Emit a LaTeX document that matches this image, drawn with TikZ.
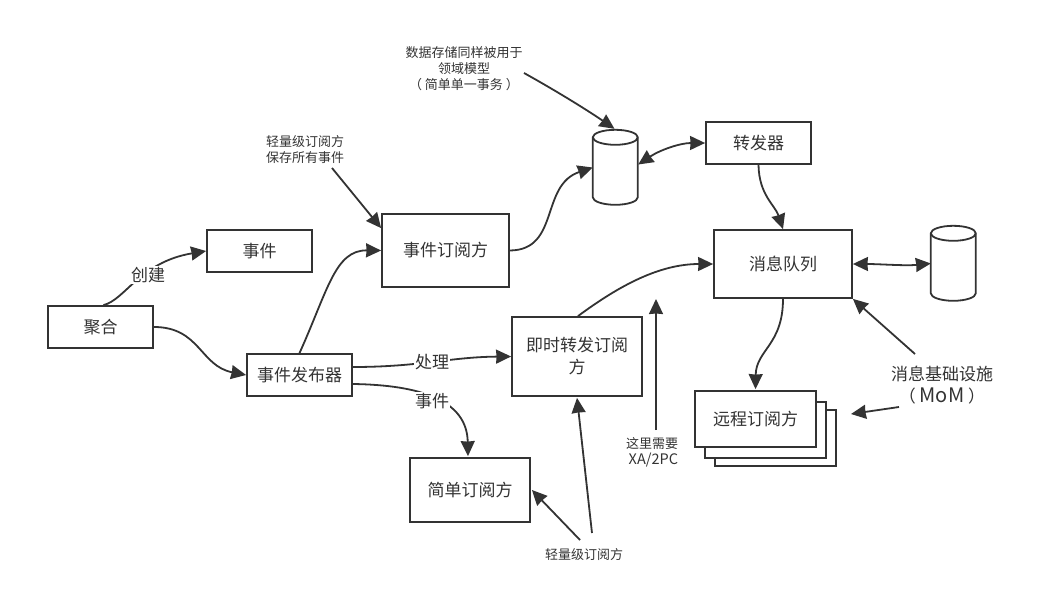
\documentclass[tikz,border=0pt]{standalone}
\usepackage{fontspec}
\setmainfont{Noto Sans CJK SC}
\usetikzlibrary{arrows.meta,calc}
\definecolor{ink}{HTML}{333333}
\tikzset{
  boxnode/.style={draw=ink,line width=1.8pt,fill=white,inner sep=0pt,align=center,text=ink,font=\fontsize{17}{22}\selectfont},
  bigtext/.style={inner sep=0pt,align=center,text=ink,font=\fontsize{17}{22}\selectfont},
  smalltext/.style={inner sep=0pt,align=center,text=ink,font=\fontsize{13}{16}\selectfont},
  edgelabel/.style={fill=white,inner sep=1pt,text=ink,font=\fontsize{17}{22}\selectfont},
  conn/.style={draw=ink,line width=1.8pt,-{Stealth[length=15pt,width=14pt,inset=0.5pt]}},
  biconn/.style={draw=ink,line width=1.8pt,{Stealth[length=15pt,width=14pt,inset=0.5pt]}-{Stealth[length=15pt,width=14pt,inset=0.5pt]}},
  dbline/.style={draw=ink,line width=1.8pt,fill=white},
  anchorbox/.style={inner sep=0pt,minimum width=45pt,minimum height=75pt},
}
\newcommand{\mybox}[6]{\node[boxnode,minimum width=#4pt-#2pt,minimum height=#5pt-#3pt] (#1) at ({(#2+#4)/2},{(#3+#5)/2}) {#6};}
\newcommand{\mydb}[3]{%
  \node[anchorbox] (#1) at (#2,#3) {};
  \draw[dbline] (#1.north west) ++(0,7.5) -- ++(0,60) arc[start angle=180,end angle=360,x radius=22.5pt,y radius=7.5pt] -- ++(0,-60) arc[start angle=0,end angle=180,x radius=22.5pt,y radius=7.5pt] -- cycle;
  \draw[dbline,fill=none] (#1.north west) ++(0,7.5) arc[start angle=180,end angle=360,x radius=22.5pt,y radius=7.5pt];
}
\begin{document}
\begin{tikzpicture}[x=1pt,y=-1pt]
\useasboundingbox (0,0) rectangle (1054,607);
\mybox{shijian}{207}{230}{312}{272}{事件}
\mybox{juhe}{48}{306}{153}{348}{聚合}
\mybox{fabu}{247}{354}{352}{396}{事件发布器}
\mybox{dingyue}{382}{214}{509}{287}{事件订阅方}
\mybox{jishi}{512}{317}{642}{396}{即时转发订阅\\方}
\mybox{jiandan}{410}{458}{530}{522}{简单订阅方}
\mybox{zhuanfa}{706}{122}{811}{164}{转发器}
\mybox{xiaoxi}{714}{230}{852}{298}{消息队列}
\mybox{back2}{715}{410}{836}{466}{}
\mybox{back1}{705}{402}{826}{458}{}
\mybox{yuancheng}{695}{391}{816}{447}{远程订阅方}
\mydb{dba}{615.5}{167.5}
\mydb{dbb}{953.5}{263.5}
\node[smalltext] (note1) at (464,69) {数据存储同样被用于\\领域模型\\（ 简单单一事务 ）};
\node[smalltext] (note2) at (305,149.5) {轻量级订阅方\\保存所有事件};
\node[smalltext,align=right] (note3) at (652,452) {这里需要\\{\fontsize{14.5}{16}\selectfont XA/2PC}};
\node[smalltext] (note4) at (584,555) {轻量级订阅方};
\node[bigtext] (note5) at (942,385.5) {消息基础设施\\（ {\fontsize{20}{22}\selectfont MoM} ）};
\coordinate (n1s) at (524,73);
\coordinate (n2s) at (332,168);
\coordinate (n3s) at (656,430);
\coordinate (n3e) at (656,299);
\coordinate (n4a) at (592,533);
\coordinate (n4b) at (580,540);
\coordinate (n5a) at (915,354);
\coordinate (n5b) at (899,407);
\coordinate (n5e) at (851,414);
\draw[conn] (juhe.north) ++(3,0) .. controls (125,300) and (140,262) .. (shijian.west);
\node[edgelabel] (lbchuang) at (148,275) {创建};
\draw[conn] (juhe.east) .. controls (200,327) and (200,366) .. (fabu.west);
\draw[conn] (fabu.north) .. controls (328,290) and (335,250) .. (dingyue.west);
\draw[conn] (dingyue.east) .. controls (560,250) and (540,185) .. (dba.west);
\draw[biconn] (dba.east) ++(0,-3) .. controls (660,150) and (680,143) .. (zhuanfa.west);
\draw[conn] (zhuanfa.south) .. controls (759,195) and (775,205) .. (xiaoxi.north);
\draw[conn] (jishi.north) ++(1,0) .. controls (620,285) and (660,264) .. (xiaoxi.west);
\draw[biconn] (xiaoxi.east) .. controls (880,264) and (905,266) .. (dbb.west);
\draw[conn] (xiaoxi.south) .. controls (783,345) and (756,350) .. ($(yuancheng.north)+(0,-1)$);
\draw[conn] (fabu.east) ++(0,-8) .. controls (420,367) and (450,357) .. (jishi.west);
\node[edgelabel] (lbchu) at (432,362) {处理};
\draw[conn] (fabu.east) ++(0,9) .. controls (420,385) and (467,400) .. ($(jiandan.north)+(-2,-1)$);
\node[edgelabel] (lbshi) at (432,401) {事件};
\draw[conn] (n1s) .. controls (560,93) and (590,112) .. ($(dba.north)+(-1,-1)$);
\draw[conn] (n2s) -- ($(dingyue.north west)+(0,15)$);
\draw[conn] (n3s) -- (n3e);
\draw[conn] (n4a) -- ($(jishi.south)+(0,1)$);
\draw[conn] (n4b) -- ($(jiandan.east)+(1,0)$);
\draw[conn] (n5a) -- (xiaoxi.south east);
\draw[conn] (n5b) -- (n5e);
\end{tikzpicture}
\end{document}
